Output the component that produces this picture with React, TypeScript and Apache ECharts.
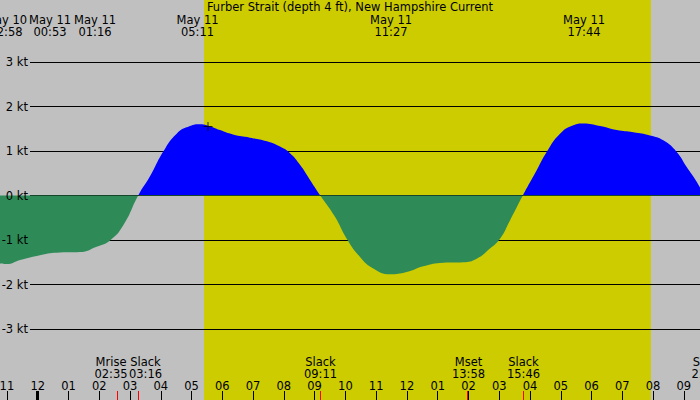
import { useEffect, useRef } from "react";
import * as echarts from "echarts";

const GRAY = "#c0c0c0";
const DAY = "#cccc00";
const FLOOD = "#0000ff";
const EBB = "#2e8b57";
const FONT = "DejaVu Sans";
const FS = 11.5;

const TITLE = "Furber Strait (depth 4 ft), New Hampshire Current";

// plot band of the knots scale
const PLOT_TOP = 62;
const PLOT_H = 267;

// time axis: hours after midnight May 11 (window spans 22:46 May 10 .. 21:31 May 11)
const X_MIN = -1.225;
const X_MAX = 21.525;

// current speed, knots (+ flood / - ebb)
const HOURS = [
  -1.225, -1.007, -0.575, 0.075, 0.725, 1.375, 1.917, 2.35, 2.782, 3.267, 3.65, 4.082, 4.517,
  4.95, 5.275, 5.535, 5.925, 6.347, 6.9, 7.452, 7.875, 8.2, 8.525, 8.85, 9.183, 9.662, 10.042,
  10.475, 10.907, 11.45, 11.992, 12.532, 13.182, 13.832, 14.267, 14.7, 15.025, 15.35, 15.767,
  16.217, 16.542, 16.975, 17.407, 17.733, 18.275, 18.817, 19.357, 19.9, 20.332, 20.767, 21.092,
  21.417, 21.655,
];
const KNOTS = [
  -1.53, -1.54, -1.45, -1.34, -1.28, -1.27, -1.15, -1.01, -0.67, 0, 0.43, 0.99, 1.39,
  1.56, 1.6, 1.57, 1.47, 1.37, 1.3, 1.22, 1.1, 0.95, 0.69, 0.35, 0, -0.48, -0.97,
  -1.38, -1.64, -1.77, -1.72, -1.59, -1.51, -1.5, -1.42, -1.19, -0.97, -0.56, 0,
  0.57, 0.98, 1.39, 1.58, 1.62, 1.56, 1.47, 1.42, 1.35, 1.24, 0.98, 0.64,
  0.31, 0,
];

const MARKER = [5.535, 1.55];
const DAYLIGHT = [[5.405, 19.93]]; // sunrise .. sunset

const HOUR_TICKS = [-1, 0, 1, 2, 3, 4, 5, 6, 7, 8, 9, 10, 11, 12, 13, 14, 15, 16, 17, 18, 19, 20, 21];
const HOUR_LABELS = ["11", "12", "01", "02", "03", "04", "05", "06", "07", "08", "09", "10", "11", "12", "01", "02", "03", "04", "05", "06", "07", "08", "09"];
const MIDNIGHT = [0];
const EVENT_TICKS = [2.583, 3.267, 9.183, 13.967, 15.767, 21.683];

// top labels (date / time) and their x positions
const TOP_DATES = ["May 10", "May 11", "May 11", "May 11", "May 11", "May 11"];
const TOP_TIMES = ["22:58", "00:53", "01:16", "05:11", "11:27", "17:44"];
const TOP_X = [6, 50, 95, 197.5, 391, 584];

// bottom event labels
const BOT_NAMES = ["Mrise", "Slack", "Slack", "Mset", "Slack", "Slack"];
const BOT_TIMES = ["02:35", "03:16", "09:11", "13:58", "15:46", "21:41"];
const BOT_X = [111, 145.5, 320.5, 468.5, 523.5, 708];

export default function App() {
  const ref = useRef<HTMLDivElement>(null);

  useEffect(() => {
    if (!ref.current) return;
    const chart = echarts.init(ref.current, null, { renderer: "svg" });

    const txt = (x: number, y: number, text: string) => ({
      type: "text",
      x,
      y,
      silent: true,
      z: 10,
      style: {
        text,
        fill: "#000",
        font: `${FS}px "${FONT}"`,
        textAlign: "center",
        textVerticalAlign: "middle",
      },
    });

    const graphics: any[] = [txt(350, 7, TITLE)];
    TOP_X.forEach((x, i) => {
      graphics.push(txt(x, 19.5, TOP_DATES[i]));
      graphics.push(txt(x, 31.5, TOP_TIMES[i]));
    });
    BOT_X.forEach((x, i) => {
      graphics.push(txt(x, 361.5, BOT_NAMES[i]));
      graphics.push(txt(x, 373.5, BOT_TIMES[i]));
    });

    const hiddenX = (gridIndex: number) => ({
      type: "value",
      gridIndex,
      min: X_MIN,
      max: X_MAX,
      show: false,
    });

    const tickAxis = (values: number[], color: string, width: number, z: number, labels: boolean) => ({
      type: "value",
      gridIndex: 0,
      position: "bottom",
      min: X_MIN,
      max: X_MAX,
      z,
      axisLine: { show: false },
      splitLine: { show: false },
      axisTick: {
        show: true,
        inside: true,
        length: 9,
        customValues: values,
        lineStyle: { color, width },
      },
      axisLabel: labels
        ? {
            show: true,
            inside: true,
            margin: 8,
            customValues: HOUR_TICKS,
            color: "#000",
            fontSize: FS,
            fontFamily: FONT,
            formatter: (v: number) => HOUR_LABELS[HOUR_TICKS.indexOf(Math.round(v))] ?? "",
          }
        : { show: false },
    });

    const ktAxis = (z: number, labels: boolean, lines: boolean) => ({
      type: "value",
      gridIndex: 2,
      position: "left",
      min: -3,
      max: 3,
      interval: 1,
      z,
      axisLine: { show: false },
      axisTick: { show: false },
      axisLabel: {
        show: labels,
        margin: 2,
        color: "#000",
        fontSize: FS,
        fontFamily: FONT,
        formatter: (v: number) => `${v} kt`,
      },
      splitLine: { show: lines, lineStyle: { color: "#000", width: 1 } },
    });

    // flood above 0 kt, ebb below: hard colour stop at the zero line (middle of a symmetric -3..3 scale)
    const fill = new echarts.graphic.LinearGradient(
      0,
      PLOT_TOP,
      0,
      PLOT_TOP + PLOT_H,
      [
        { offset: 0, color: FLOOD },
        { offset: 0.5, color: FLOOD },
        { offset: 0.5, color: EBB },
        { offset: 1, color: EBB },
      ],
      true
    );

    chart.setOption({
      animation: false,
      backgroundColor: GRAY,
      textStyle: { fontFamily: FONT },
      grid: [
        { left: 0, right: 0, top: 0, bottom: 0, outerBoundsMode: "none", containLabel: false },
        { left: 0, right: 0, top: PLOT_TOP, height: PLOT_H, outerBoundsMode: "none", containLabel: false },
        { left: 30, right: 0, top: PLOT_TOP, height: PLOT_H, outerBoundsMode: "none", containLabel: false },
      ],
      xAxis: [
        tickAxis(HOUR_TICKS, "#000", 1, 3, true),
        tickAxis(MIDNIGHT, "#000", 3, 3, false),
        tickAxis(EVENT_TICKS, "#ff0000", 1, 4, false),
        hiddenX(1),
        hiddenX(2),
      ],
      yAxis: [
        { type: "value", gridIndex: 0, min: 0, max: 1, show: false },
        { type: "value", gridIndex: 1, min: -3, max: 3, show: false },
        ktAxis(1, false, true),
        ktAxis(6, true, false),
      ],
      series: [
        {
          type: "custom",
          xAxisIndex: 0,
          yAxisIndex: 0,
          z: 0,
          silent: true,
          data: DAYLIGHT,
          renderItem: (_params: any, api: any) => {
            const a = api.coord([api.value(0), 0]);
            const b = api.coord([api.value(1), 1]);
            return {
              type: "rect",
              shape: { x: a[0], y: b[1], width: b[0] - a[0], height: a[1] - b[1] },
              style: { fill: DAY },
            };
          },
        },
        {
          type: "line",
          xAxisIndex: 3,
          yAxisIndex: 1,
          z: 2,
          data: HOURS.map((h, i) => [h, KNOTS[i]]),
          smooth: 0.5,
          symbol: "none",
          lineStyle: { width: 0 },
          itemStyle: { color: FLOOD },
          areaStyle: { color: fill, opacity: 1, origin: 0 },
          silent: true,
        },
        {
          type: "scatter",
          xAxisIndex: 3,
          yAxisIndex: 1,
          z: 5,
          symbol: "path://M4,0h1v9h-1zM0,4h9v1h-9z",
          symbolSize: 9,
          itemStyle: { color: "#000" },
          data: [MARKER],
          silent: true,
        },
      ],
      graphic: graphics,
    });

    return () => chart.dispose();
  }, []);

  return <div ref={ref} style={{ width: 700, height: 400, position: "fixed", left: 0, top: 0 }} />;
}
